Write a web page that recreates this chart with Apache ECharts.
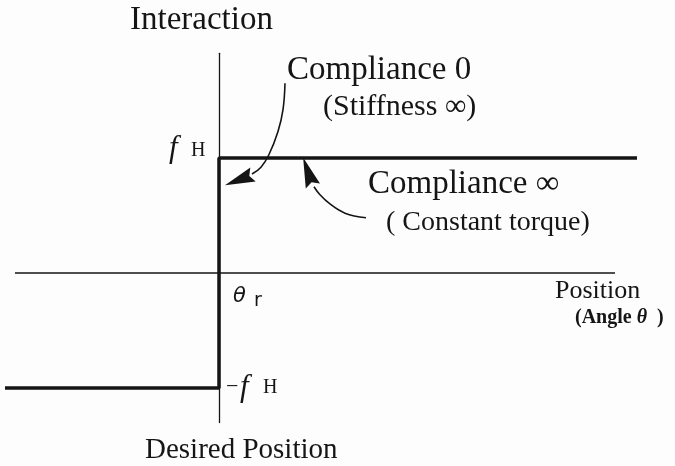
<!DOCTYPE html>
<html>
<head>
<meta charset="utf-8">
<script src="https://cdn.jsdelivr.net/npm/echarts@6/dist/echarts.min.js"></script>
<style>html,body{margin:0;padding:0;background:#fdfdfd;}</style>
</head>
<body>
<div id="main" style="width:675px;height:466px;"></div>
<script>
// step response: -fH left of θr, +fH right of it
var stepX = [-2.14, 0, 0, 4.18];
var stepY = [-1, -1, 1, 1];

// horizontal Position axis (shorter than the step line)
var posAxisX = [-2.04, 3.96];
var posAxisY = [0, 0];

// annotation arrows (shaft points + arrowheads), in axis units
var arrow1X = [0.66, 0.64, 0.59, 0.50, 0.42, 0.33];
var arrow1Y = [1.65, 1.42, 1.23, 1.03, 0.92, 0.86];
var arrow2X = [1.47, 1.26, 1.11, 1.01, 0.95];
var arrow2Y = [0.48, 0.52, 0.60, 0.68, 0.75];
var headX = [0.20, 0.89];
var headY = [0.81, 0.88];
var headAngle = [111, 19];

var xMin = -2.14, xMax = 4.18;
var yMin = -1.3, yMax = 1.91;

var serif = '"Liberation Serif", "DejaVu Serif", serif';
var ink = '#151515';

function pairs(xs, ys) {
    return xs.map(function (x, i) { return [x, ys[i]]; });
}

var myChart = echarts.init(document.getElementById('main'));

var option = {
    backgroundColor: '#fdfdfd',
    animation: false,
    grid: { left: 5, right: 38, top: 53.3, bottom: 43.5 },
    xAxis: {
        type: 'value', min: xMin, max: xMax,
        axisLine: { show: false },
        axisTick: { show: false }, axisLabel: { show: false }, splitLine: { show: false }
    },
    yAxis: {
        type: 'value', min: yMin, max: yMax,
        axisLine: { show: true, onZero: true, lineStyle: { color: ink, width: 1.3 } },
        axisTick: { show: false }, axisLabel: { show: false }, splitLine: { show: false }
    },
    series: [
        {
            type: 'line', data: pairs(posAxisX, posAxisY), symbol: 'none',
            lineStyle: { color: ink, width: 1.3 }
        },
        {
            type: 'line', data: pairs(stepX, stepY), symbol: 'none',
            lineStyle: { color: ink, width: 3.5 }, z: 3
        },
        {
            type: 'line', data: pairs(arrow1X, arrow1Y), symbol: 'none', smooth: 0.4,
            lineStyle: { color: ink, width: 1.6 }
        },
        {
            type: 'line', data: pairs(arrow2X, arrow2Y), symbol: 'none', smooth: 0.4,
            lineStyle: { color: ink, width: 1.6 }
        },
        {
            type: 'scatter',
            symbol: 'path://M5,0 L10,30 L5,26 L0,30 Z',
            symbolSize: [15, 30],
            itemStyle: { color: ink, opacity: 1 },
            data: headX.map(function (x, i) {
                return { value: [x, headY[i]], symbolRotate: headAngle[i] };
            })
        }
    ]
};

myChart.setOption(option);

var pHi = myChart.convertToPixel({ gridIndex: 0 }, [0, 1]);
var pLo = myChart.convertToPixel({ gridIndex: 0 }, [0, -1]);
var p0 = myChart.convertToPixel({ gridIndex: 0 }, [0, 0]);

function txt(x, y, text, font, extra) {
    var s = { text: text, font: font, fill: ink, verticalAlign: 'middle' };
    for (var k in extra) s[k] = extra[k];
    return { type: 'text', x: x, y: y, style: s, z: 10 };
}

myChart.setOption({
    graphic: [
        txt(130, 20, 'Interaction', '33px ' + serif),
        txt(287, 70, 'Compliance 0', '33px ' + serif),
        txt(323, 107, '(Stiffness ∞)', '30px ' + serif),
        txt(368, 184, 'Compliance ∞', '33px ' + serif),
        txt(386, 223, '( Constant torque)', '28px ' + serif),
        txt(555, 291, 'Position', '26px ' + serif),
        txt(575, 318, '(Angle {t|θ}  )', 'bold 20px ' + serif, {
            rich: { t: { font: 'italic bold 20px ' + serif, fill: ink } }
        }),
        txt(145, 450, 'Desired Position', '29px ' + serif),
        // fH beside the upper level
        txt(pHi[0] - 50, pHi[1] - 9, 'f', 'italic 31px ' + serif),
        txt(pHi[0] - 28, pHi[1] - 7, 'H', '20px ' + serif),
        // −fH beside the lower level
        txt(pLo[0] + 7, pLo[1] - 1, '−', '22px ' + serif),
        txt(pLo[0] + 21, pLo[1], 'f', 'italic 31px ' + serif),
        txt(pLo[0] + 44, pLo[1], 'H', '20px ' + serif),
        // θr under the origin
        txt(p0[0] + 14, p0[1] + 24, 'θ', 'italic 21px "DejaVu Sans", sans-serif'),
        txt(p0[0] + 35, p0[1] + 28, 'r', '19px "DejaVu Sans", sans-serif')
    ]
});
</script>
</body>
</html>
